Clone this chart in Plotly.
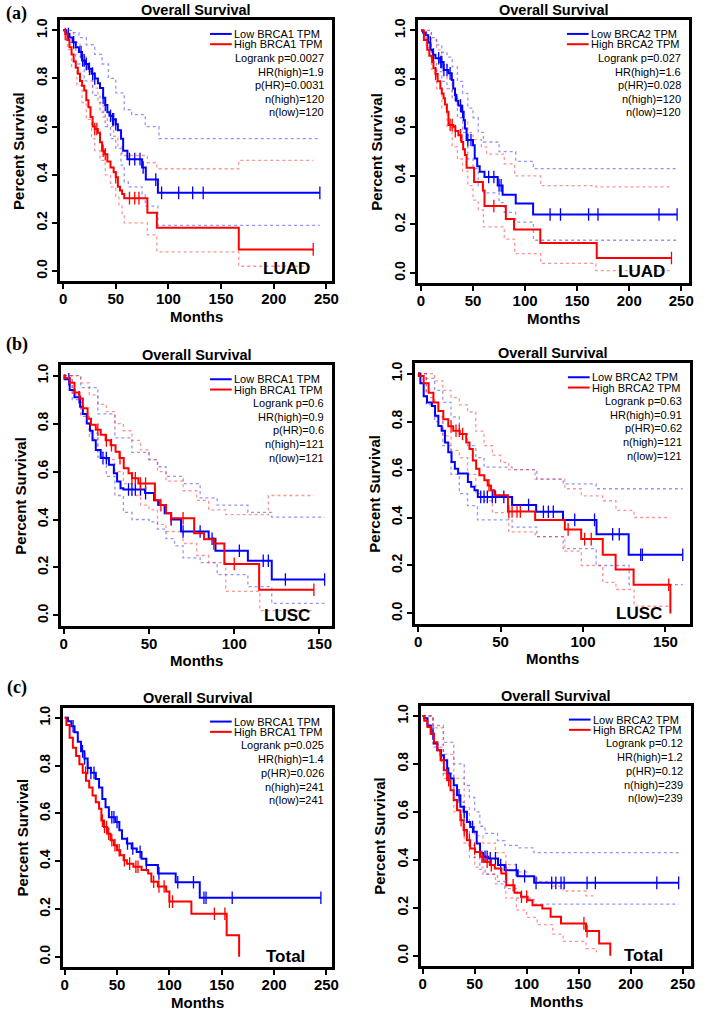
import numpy as np
import plotly.graph_objects as go

# ---------------- DATA ----------------
# (a) LUAD, BRCA1
AL_low_t = [0, 3, 6, 9, 12, 15, 18, 21, 24, 27, 30, 33, 35, 38, 40, 42, 44, 47, 50, 52, 55, 57, 61, 75, 78.5, 90, 243.8]
AL_low_s = [1, .985, .97, .95, .93, .91, .875, .86, .84, .82, .80, .78, .76, .72, .69, .66, .645, .63, .61, .585, .55, .50, .465, .43, .38, .325, .325]
AL_low_c = [5, 10, 17, 18.5, 20, 22, 25, 28, 30, 38, 40, 45, 47, 48, 50, 63, 68, 73, 76, 88, 93.5, 109.7, 123, 133, 243.8]
AL_high_t = [0, 2, 4, 6, 8, 10, 12, 14, 16, 18, 20, 22, 24, 26, 28, 30, 33, 35, 37, 39, 42, 45, 48, 50, 52, 54, 56, 58, 80, 89, 166.8, 237.5]
AL_high_s = [1, .985, .96, .93, .9, .87, .845, .82, .79, .77, .75, .71, .68, .64, .60, .59, .575, .535, .50, .485, .455, .43, .41, .39, .35, .335, .32, .303, .242, .18, .09, .09]
AL_high_c = [2, 30, 32, 38, 40, 50, 63, 68, 72, 237.5]
AL_low_up_t = [0, 8, 15, 22, 30, 37, 43, 50, 58, 65, 78, 91, 243.8]
AL_low_up_s = [1, .99, .97, .94, .90, .86, .80, .74, .67, .65, .60, .55, .55]
AL_low_lo_t = [0, 5, 12, 20, 28, 35, 40, 45, 50, 55, 58, 62, 75, 78, 90, 243.8]
AL_low_lo_s = [1, .95, .86, .79, .73, .66, .60, .55, .51, .44, .37, .35, .32, .27, .19, .19]
AL_high_up_t = [0, 5, 10, 16, 22, 28, 33, 38, 42, 48, 52, 56, 80, 89, 166.8, 237.5]
AL_high_up_s = [1, .99, .95, .89, .83, .76, .70, .64, .60, .56, .52, .48, .45, .425, .46, .46]
AL_high_lo_t = [0, 4, 8, 13, 18, 22, 27, 30, 35, 40, 45, 50, 53, 56, 58, 80, 89, 166.8, 237.5]
AL_high_lo_s = [1, .92, .85, .77, .70, .63, .55, .50, .46, .40, .35, .31, .27, .24, .20, .15, .08, .02, .02]

# (a) LUAD, BRCA2
AR_low_t = [0, 2, 4.4, 7, 9.1, 11.5, 13.9, 18.6, 21.7, 26.4, 29.6, 31, 32.7, 34, 35.9, 39, 41, 42.2, 43.8, 50, 51.6, 54, 56.4, 61, 73.7, 78.4, 91, 107.7, 246]
AR_low_s = [1, .99, .98, .95, .92, .90, .885, .87, .837, .823, .796, .76, .734, .71, .69, .665, .63, .596, .548, .527, .472, .44, .417, .396, .361, .323, .286, .241, .241]
AR_low_c = [9, 12, 17, 19, 20, 22, 25, 28, 33, 38, 40, 45, 48, 65, 70, 75, 77, 124, 134, 161, 170, 228.6, 246]
AR_high_t = [0, 2.8, 6, 8, 10.7, 12, 13.9, 16, 18.6, 20, 21.7, 23, 24.9, 26.4, 31.2, 33, 35.9, 39, 40.5, 42.2, 43.8, 51, 59.5, 61, 81.5, 89.4, 114.6, 168.8, 240.6]
AR_high_s = [1, .96, .92, .895, .87, .845, .82, .79, .76, .74, .72, .695, .665, .61, .603, .585, .568, .54, .51, .486, .434, .375, .34, .276, .223, .179, .124, .062, .062]
AR_high_c = [14, 28, 30, 33, 38, 70, 240.6]
AR_low_up_t = [0, 5, 10, 15, 20, 25, 30, 35, 40, 45, 50, 55, 60, 75, 91, 108, 246]
AR_low_up_s = [1, 1, .97, .94, .91, .89, .85, .79, .74, .68, .64, .58, .54, .50, .46, .43, .43]
AR_low_lo_t = [0, 5, 10, 15, 20, 25, 30, 35, 40, 45, 50, 55, 60, 75, 80, 91, 108, 246]
AR_low_lo_s = [1, .95, .87, .83, .79, .76, .72, .64, .58, .47, .43, .36, .33, .29, .25, .21, .135, .135]
AR_high_up_t = [0, 5, 10, 15, 20, 25, 30, 35, 40, 45, 50, 58, 63, 80, 90, 115, 168, 240.6]
AR_high_up_s = [1, .99, .96, .92, .86, .80, .74, .69, .63, .58, .55, .52, .49, .45, .40, .36, .355, .355]
AR_high_lo_t = [0, 5, 10, 15, 20, 25, 30, 35, 40, 45, 50, 55, 60, 80, 90, 115, 168, 240.6]
AR_high_lo_s = [1, .93, .84, .76, .68, .60, .52, .47, .42, .36, .30, .26, .19, .14, .08, .04, .01, .01]

# (b) LUSC, BRCA1
BL_low_t = [0, 0.5, 3.5, 6.3, 9.6, 11.2, 13.5, 15.4, 16.9, 18.8, 21.7, 26.5, 29.4, 31.3, 33.3, 35, 47.7, 53, 55.4, 59.2, 63, 68.8, 85, 89, 108, 122, 153]
BL_low_s = [1, .985, .94, .91, .87, .84, .80, .77, .73, .69, .656, .628, .593, .558, .53, .525, .51, .48, .46, .426, .40, .35, .32, .27, .228, .15, .15]
BL_low_c = [3, 9, 23, 25, 38, 40, 42, 45, 48, 63, 70, 80, 87, 103, 117, 120, 130, 153]
BL_high_t = [0, 0.5, 3.5, 6.3, 9.2, 11.2, 14, 16, 18.8, 21.7, 24.6, 27.5, 30.4, 32.7, 35.2, 38, 40, 43.8, 53.5, 56.3, 60, 63, 76.5, 82.3, 88, 94.2, 114.6, 146.7]
BL_high_s = [1, .99, .97, .93, .905, .864, .82, .795, .774, .753, .73, .71, .683, .656, .614, .593, .572, .55, .48, .46, .426, .405, .343, .318, .30, .215, .107, .107]
BL_high_c = [20, 25, 28, 33, 40, 42, 45, 48, 57, 63, 70, 88, 100, 146.7]
BL_low_up_t = [0, 10, 20, 30, 40, 50, 55, 60, 70, 80, 90, 108, 122, 153]
BL_low_up_s = [1, .95, .84, .74, .68, .65, .62, .58, .55, .49, .46, .43, .41, .41]
BL_low_lo_t = [0, 5, 10, 15, 20, 25, 30, 35, 40, 50, 55, 60, 65, 70, 80, 90, 108, 122, 153]
BL_low_lo_s = [1, .90, .83, .76, .66, .58, .50, .43, .40, .39, .36, .32, .29, .24, .22, .17, .12, .05, .05]
BL_high_up_t = [0, 5, 10, 15, 20, 25, 30, 35, 40, 45, 50, 55, 60, 70, 78, 85, 95, 115, 120, 146.7]
BL_high_up_s = [1, 1, .97, .92, .88, .85, .80, .77, .73, .69, .65, .60, .56, .52, .48, .44, .42, .42, .50, .50]
BL_high_lo_t = [0, 5, 10, 15, 20, 25, 30, 35, 40, 45, 50, 55, 60, 70, 78, 85, 95, 115, 146.7]
BL_high_lo_s = [1, .92, .84, .74, .68, .65, .60, .55, .50, .46, .44, .38, .35, .30, .25, .22, .10, .02, .02]

# (b) LUSC, BRCA2
BR_low_t = [0, 1.4, 3.4, 5.4, 8.4, 10.3, 12.3, 14.3, 16.3, 18.3, 20.3, 22.3, 24.3, 30.2, 32.2, 34.2, 36.2, 57, 71.6, 87.9, 108.2, 127.7, 160.5]
BR_low_s = [1, .96, .906, .88, .865, .824, .782, .762, .713, .672, .631, .603, .583, .548, .528, .514, .486, .452, .424, .39, .33, .245, .245]
BR_low_c = [38, 40, 42, 45, 47, 52, 67, 76, 79, 82, 95, 107, 118, 122, 135, 136, 160.5]
BR_high_t = [0, 0.4, 3.4, 6.4, 9.3, 12.3, 15.3, 18.3, 21.3, 25.3, 29.2, 31.2, 33.2, 35.2, 37.2, 40.2, 42.2, 44.2, 46.2, 54.5, 71, 89, 98.9, 112, 119.8, 130.7, 153]
BR_high_s = [1, .99, .96, .92, .88, .844, .81, .78, .762, .748, .713, .686, .638, .603, .576, .555, .534, .514, .493, .425, .39, .35, .31, .245, .183, .12, 0]
BR_high_c = [20, 23, 25, 27, 43, 55, 57, 60, 62, 91, 101, 105, 152]
BR_low_up_t = [0, 5, 10, 15, 20, 25, 30, 35, 40, 57, 72, 88, 108, 128, 160.5]
BR_low_up_s = [1, .98, .93, .88, .82, .75, .70, .65, .61, .60, .56, .54, .52, .52, .52]
BR_low_lo_t = [0, 5, 10, 15, 20, 25, 30, 36, 57, 72, 88, 108, 128, 160.5]
BR_low_lo_s = [1, .87, .80, .70, .58, .50, .45, .39, .36, .32, .27, .20, .12, .12]
BR_high_up_t = [0, 5, 10, 15, 20, 25, 30, 35, 40, 45, 50, 55, 71, 89, 99, 112, 120, 131, 153]
BR_high_up_s = [1, 1, .97, .93, .90, .87, .84, .76, .70, .66, .63, .60, .56, .52, .49, .47, .43, .40, .40]
BR_high_lo_t = [0, 5, 10, 15, 20, 25, 30, 35, 40, 45, 55, 71, 89, 99, 112, 120, 131, 153]
BR_high_lo_s = [1, .90, .82, .74, .68, .65, .58, .50, .47, .42, .34, .32, .26, .20, .13, .10, .03, .03]

# (c) Total, BRCA1
CL_low_t = [0, 3.1, 6.3, 9.4, 12.5, 15.6, 18.8, 21.9, 25, 29.7, 32.8, 35.9, 39, 42.2, 48.4, 52.2, 54.7, 59.4, 64, 68.8, 73.4, 78, 89, 106, 129, 244.7]
CL_low_s = [1, .986, .965, .94, .90, .86, .83, .79, .77, .744, .709, .66, .626, .584, .564, .53, .494, .474, .453, .439, .41, .384, .349, .312, .247, .247]
CL_low_c = [8, 17, 19, 22, 25, 28, 45, 47, 50, 60, 65, 72, 78, 90, 108, 123, 133, 135, 160, 244.7]
CL_high_t = [0, 1.6, 4.7, 7.8, 10.9, 14, 17.2, 20.3, 23.4, 26.6, 29.7, 32.8, 35, 37.5, 40.6, 43.8, 46.9, 50, 53, 56.3, 59.4, 65.6, 73.4, 79.7, 82.8, 89, 96.9, 100, 121, 154.7, 166.6]
CL_high_s = [1, .97, .917, .875, .84, .806, .77, .737, .709, .675, .647, .62, .57, .543, .515, .488, .467, .446, .425, .404, .39, .377, .363, .349, .314, .294, .273, .231, .18, .09, 0]
CL_high_c = [20, 36, 38, 40, 42, 45, 48, 52, 57, 62, 68, 70, 85, 90, 95, 100, 103, 143, 153]

# (c) Total, BRCA2
CR_low_t = [0, 1.6, 4.7, 7.9, 11, 14.2, 17.3, 20.5, 23.6, 26.8, 29.9, 33.1, 36.3, 39.4, 42.6, 45.7, 48.9, 52, 55.2, 58.3, 63, 72.5, 78.8, 91.4, 107.2, 246]
CR_low_s = [1, .99, .96, .926, .885, .857, .836, .815, .76, .739, .711, .669, .621, .60, .558, .537, .517, .468, .429, .413, .406, .378, .357, .332, .304, .304]
CR_low_c = [10, 18, 25, 35, 40, 48, 60, 62, 65, 70, 75, 80, 90, 98, 109, 124, 128, 133, 136, 158, 166, 225, 246]
CR_high_t = [0, 1.6, 4.7, 7.9, 11, 14.2, 17.3, 20.5, 23.6, 26.8, 29.9, 33.1, 36.3, 39.4, 42.6, 45.7, 50.4, 55.2, 58.3, 64.6, 69.4, 75.7, 80.4, 88.3, 94.6, 100.9, 105.6, 115, 123, 133, 157, 169.6, 180.3]
CR_high_s = [1, .98, .954, .926, .89, .857, .815, .774, .732, .69, .649, .607, .565, .524, .482, .447, .433, .413, .392, .378, .364, .343, .294, .263, .246, .232, .211, .197, .163, .135, .103, .051, 0]
CR_high_c = [25, 37, 40, 45, 50, 57, 62, 66, 80, 87, 95, 100, 155, 158]
CR_low_up_t = [0, 10, 20, 30, 40, 45, 50, 55, 60, 72, 79, 91, 107, 246]
CR_low_up_s = [1, .96, .89, .80, .71, .66, .60, .54, .51, .48, .46, .45, .43, .43]
CR_low_lo_t = [0, 10, 20, 30, 40, 45, 50, 55, 60, 72, 79, 91, 107, 246]
CR_low_lo_s = [1, .87, .76, .64, .52, .46, .41, .36, .34, .31, .28, .24, .215, .215]
CR_high_up_t = [0, 10, 20, 30, 40, 45, 50, 58, 70, 80, 90, 100, 110, 125, 135, 157, 167]
CR_high_up_s = [1, .95, .84, .74, .62, .55, .50, .47, .43, .38, .35, .33, .31, .29, .27, .25, .25]
CR_high_lo_t = [0, 10, 20, 30, 40, 45, 50, 58, 70, 80, 90, 100, 110, 125, 135, 157, 167]
CR_high_lo_s = [1, .88, .74, .60, .47, .41, .37, .34, .30, .24, .19, .16, .13, .09, .06, .03, .015]

# Text
STATS_AL = ["Logrank p=0.0027", "HR(high)=1.9", "p(HR)=0.0031", "n(high)=120", "n(low)=120"]
STATS_AR = ["Logrank p=0.027", "HR(high)=1.6", "p(HR)=0.028", "n(high)=120", "n(low)=120"]
STATS_BL = ["Logrank p=0.6", "HR(high)=0.9", "p(HR)=0.6", "n(high)=121", "n(low)=121"]
STATS_BR = ["Logrank p=0.63", "HR(high)=0.91", "p(HR)=0.62", "n(high)=121", "n(low)=121"]
STATS_CL = ["Logrank p=0.025", "HR(high)=1.4", "p(HR)=0.026", "n(high)=241", "n(low)=241"]
STATS_CR = ["Logrank p=0.12", "HR(high)=1.2", "p(HR)=0.12", "n(high)=239", "n(low)=239"]
X_TICKS_250 = [0, 50, 100, 150, 200, 250]
X_TICKS_150 = [0, 50, 100, 150]
Y_TICKS = [0.0, 0.2, 0.4, 0.6, 0.8, 1.0]

# ---------------- LAYOUT ----------------
W, H = 709, 1013
BLUE = "#0000FF"
RED = "#FF0000"
BLUE_CI = "rgba(60,60,255,0.55)"
RED_CI = "rgba(255,60,60,0.55)"
SANS = "Liberation Sans, Arial, sans-serif"

panels = [
    dict(box=(58, 334, 18, 280), xr=(-2.8, 255.6), xt=X_TICKS_250, gene="BRCA1", stats=STATS_AL, tag="LUAD", tagoff=(-20, 13),
         low=(AL_low_t, AL_low_s, AL_low_c), high=(AL_high_t, AL_high_s, AL_high_c),
         ci=[(AL_low_up_t, AL_low_up_s, BLUE_CI), (AL_low_lo_t, AL_low_lo_s, BLUE_CI),
             (AL_high_up_t, AL_high_up_s, RED_CI), (AL_high_lo_t, AL_high_lo_s, RED_CI)]),
    dict(box=(421, 696, 18, 282), xr=(-2.8, 257.6), xt=X_TICKS_250, gene="BRCA2", stats=STATS_AR, tag="LUAD", tagoff=(-22, 12),
         low=(AR_low_t, AR_low_s, AR_low_c), high=(AR_high_t, AR_high_s, AR_high_c),
         ci=[(AR_low_up_t, AR_low_up_s, BLUE_CI), (AR_low_lo_t, AR_low_lo_s, BLUE_CI),
             (AR_high_up_t, AR_high_up_s, RED_CI), (AR_high_lo_t, AR_high_lo_s, RED_CI)]),
    dict(box=(59, 334, 364, 625), xr=(-1.5, 157.5), xt=X_TICKS_150, gene="BRCA1", stats=STATS_BL, tag="LUSC", tagoff=(-20, 10),
         low=(BL_low_t, BL_low_s, BL_low_c), high=(BL_high_t, BL_high_s, BL_high_c),
         ci=[(BL_low_up_t, BL_low_up_s, BLUE_CI), (BL_low_lo_t, BL_low_lo_s, BLUE_CI),
             (BL_high_up_t, BL_high_up_s, RED_CI), (BL_high_lo_t, BL_high_lo_s, RED_CI)]),
    dict(box=(418, 697, 362, 623), xr=(-1.8, 165), xt=X_TICKS_150, gene="BRCA2", stats=STATS_BR, tag="LUSC", tagoff=(-26, 10),
         low=(BR_low_t, BR_low_s, BR_low_c), high=(BR_high_t, BR_high_s, BR_high_c),
         ci=[(BR_low_up_t, BR_low_up_s, BLUE_CI), (BR_low_lo_t, BR_low_lo_s, BLUE_CI),
             (BR_high_up_t, BR_high_up_s, RED_CI), (BR_high_lo_t, BR_high_lo_s, RED_CI)]),
    dict(box=(61, 334, 707, 967), xr=(-1.5, 255.6), xt=X_TICKS_250, gene="BRCA1", stats=STATS_CL, tag="Total", tagoff=(-25, 11),
         low=(CL_low_t, CL_low_s, CL_low_c), high=(CL_high_t, CL_high_s, CL_high_c), ci=[]),
    dict(box=(424, 698, 705, 966), xr=(-1.5, 258), xt=X_TICKS_250, gene="BRCA2", stats=STATS_CR, tag="Total", tagoff=(-26, 11),
         low=(CR_low_t, CR_low_s, CR_low_c), high=(CR_high_t, CR_high_s, CR_high_c),
         ci=[(CR_low_up_t, CR_low_up_s, BLUE_CI), (CR_low_lo_t, CR_low_lo_s, BLUE_CI),
             (CR_high_up_t, CR_high_up_s, RED_CI), (CR_high_lo_t, CR_high_lo_s, RED_CI)]),
]


def step_at(ts, ss, t):
    ts = np.asarray(ts, float)
    idx = np.searchsorted(ts, t, side="right") - 1
    return float(np.asarray(ss, float)[idx])


fig = go.Figure()
layout = dict(width=W, height=H, margin=dict(l=0, r=0, t=0, b=0),
              paper_bgcolor="white", plot_bgcolor="white", showlegend=False)
annotations = []
shapes = []

for i, p in enumerate(panels):
    n = "" if i == 0 else str(i + 1)
    xa, ya = "x" + n, "y" + n
    l, r, t, b = p["box"]
    bw = r - l
    layout["xaxis" + n] = dict(
        domain=[l / W, r / W], anchor=ya, range=list(p["xr"]), tickvals=p["xt"],
        ticks="outside", ticklen=5, tickwidth=1.5, tickcolor="black", ticklabelstandoff=-3,
        showline=True, mirror=True, linewidth=2.5, linecolor="black",
        showgrid=False, zeroline=False,
        tickfont=dict(family=SANS, size=15, color="black", weight="bold"))
    layout["yaxis" + n] = dict(
        domain=[1 - b / H, 1 - t / H], anchor=xa, range=[-0.043, 1.043], tickvals=Y_TICKS,
        tickformat=".1f", tickangle=-90,
        ticks="outside", ticklen=5, tickwidth=1.5, tickcolor="black",
        showline=True, mirror=True, linewidth=2.5, linecolor="black",
        showgrid=False, zeroline=False,
        tickfont=dict(family=SANS, size=14, color="black", weight="bold"))

    # confidence bands (dotted)
    for (ct, cs, col) in p["ci"]:
        fig.add_trace(go.Scatter(x=ct, y=cs, mode="lines", line=dict(color=col, width=1.3, dash="dot", shape="hv"),
                                 xaxis=xa, yaxis=ya, hoverinfo="skip"))
    # survival curves
    for (st, ss, cens), col in ((p["low"], BLUE), (p["high"], RED)):
        fig.add_trace(go.Scatter(x=st, y=ss, mode="lines", line=dict(color=col, width=2, shape="hv"),
                                 xaxis=xa, yaxis=ya))
        cy = [step_at(st, ss, c) for c in cens]
        fig.add_trace(go.Scatter(x=cens, y=cy, mode="markers",
                                 marker=dict(symbol="line-ns", size=9, color=col, line=dict(color=col, width=1.3)),
                                 xaxis=xa, yaxis=ya))

    xd, yd = xa + " domain", ya + " domain"
    # title
    annotations.append(dict(text="<b>Overall Survival</b>", xref=xd, yref=yd, x=0.5, y=1, xanchor="center",
                            yanchor="middle", yshift=10, showarrow=False,
                            font=dict(family=SANS, size=14.5, color="black")))
    # axis titles
    annotations.append(dict(text="<b>Months</b>", xref=xd, yref=yd, x=0.5, y=0, xanchor="center",
                            yanchor="middle", yshift=-35, showarrow=False,
                            font=dict(family=SANS, size=15, color="black")))
    annotations.append(dict(text="<b>Percent Survival</b>", xref=xd, yref=yd, x=0, y=0.5, xanchor="center",
                            yanchor="middle", xshift=-41, textangle=-90, showarrow=False,
                            font=dict(family=SANS, size=15, color="black")))
    # legend
    rows = [14, 24.3, 37.7, 51.7, 65.3, 79.3, 92.7]
    lbls = ["Low %s TPM" % p["gene"], "High %s TPM" % p["gene"]]
    for k, (lab, col) in enumerate(zip(lbls, (BLUE, RED))):
        yy = 1 - rows[k] / (b - t)
        shapes.append(dict(type="line", xref=xd, yref=yd, x0=1 - 124 / bw, x1=1 - 102 / bw, y0=yy, y1=yy,
                           line=dict(color=col, width=2)))
        annotations.append(dict(text=lab, xref=xd, yref=yd, x=1 - 102 / bw, y=yy, xanchor="left",
                                yanchor="middle", showarrow=False,
                                font=dict(family=SANS, size=11, color="black")))
    for k, s in enumerate(p["stats"]):
        yy = 1 - rows[k + 2] / (b - t)
        annotations.append(dict(text=s, xref=xd, yref=yd, x=1 - 6 / bw, y=yy, xanchor="right",
                                yanchor="middle", showarrow=False,
                                font=dict(family=SANS, size=11, color="black")))
    # tag
    annotations.append(dict(text="<b>%s</b>" % p["tag"], xref=xd, yref=yd, x=1, y=0, xanchor="right",
                            yanchor="middle", xshift=p["tagoff"][0], yshift=p["tagoff"][1], showarrow=False,
                            font=dict(family=SANS, size=17, color="black")))

# panel letters
for lab, yy in (("(a)", 12), ("(b)", 343), ("(c)", 687)):
    annotations.append(dict(text="<b>%s</b>" % lab, xref="paper", yref="paper", x=14 / W, y=1 - yy / H,
                            xanchor="center", yanchor="middle", showarrow=False,
                            font=dict(family="Liberation Serif, Times New Roman, serif", size=18, color="black")))

layout["annotations"] = annotations
layout["shapes"] = shapes
fig.update_layout(**layout)
fig.write_html("out.html", config={"displayModeBar": False},
               post_script="document.body.style.margin='0';document.body.style.padding='0';")
